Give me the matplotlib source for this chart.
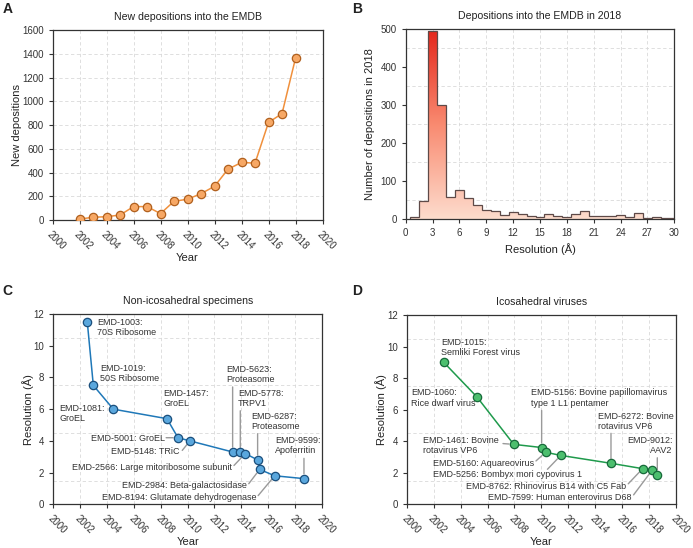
import numpy as np
import matplotlib
matplotlib.use("Agg")
import matplotlib.pyplot as plt
from matplotlib.colors import LinearSegmentedColormap

plt.rcParams["font.family"] = ["Liberation Sans", "DejaVu Sans"]
plt.rcParams["text.color"] = "#222222"
plt.rcParams["axes.labelcolor"] = "#222222"
plt.rcParams["xtick.color"] = "#333333"
plt.rcParams["ytick.color"] = "#333333"

# --- A: new depositions per year ---
dep_years = [2002, 2003, 2004, 2005, 2006, 2007, 2008, 2009, 2010,
             2011, 2012, 2013, 2014, 2015, 2016, 2017, 2018]
dep_counts = [8, 23, 28, 42, 113, 113, 54, 158, 175,
              222, 284, 428, 485, 479, 822, 896, 1363]

# --- B: 2018 resolution histogram (1 A bins centred on integers) ---
res_bins = list(range(1, 31))
res_counts = [4, 47, 494, 300, 57, 76, 55, 36, 23, 20, 11, 18, 14, 7, 4,
              12, 9, 5, 12, 22, 8, 8, 8, 11, 4, 16, 2, 6, 2, 3]

# --- C: non-icosahedral record resolutions ---
nonico_ids = ["EMD-1003:\n70S Ribosome", "EMD-1019:\n50S Ribosome", "EMD-1081:\nGroEL",
              "EMD-1457:\nGroEL", "EMD-5001: GroEL", "EMD-5148: TRiC",
              "EMD-5623:\nProteasome", "EMD-5778:\nTRPV1",
              "EMD-2566: Large mitoribosome subunit", "EMD-6287:\nProteasome",
              "EMD-2984: Beta-galactosidase", "EMD-8194: Glutamate dehydrogenase",
              "EMD-9599:\nApoferritin"]
nonico_year = [2002.53, 2002.98, 2004.47, 2008.46, 2009.28, 2010.17, 2013.35,
               2013.92, 2014.29, 2015.21, 2015.36, 2016.48, 2018.66]
nonico_res = [11.5, 7.5, 6.0, 5.4, 4.2, 4.0, 3.3, 3.28, 3.2, 2.8, 2.2, 1.8, 1.62]

# --- D: icosahedral virus record resolutions ---
ico_ids = ["EMD-1015:\nSemliki Forest virus", "EMD-1060:\nRice dwarf virus",
           "EMD-1461: Bovine\nrotavirus VP6",
           "EMD-5156: Bovine papillomavirus\ntype 1 L1 pentamer",
           "EMD-5160: Aquareovirus", "EMD-5256: Bombyx mori cypovirus 1",
           "EMD-6272: Bovine\nrotavirus VP6", "EMD-8762: Rhinovirus B14 with C5 Fab",
           "EMD-7599: Human enterovirus D68", "EMD-9012:\nAAV2"]
ico_year = [2002.75, 2005.22, 2007.95, 2010.02, 2010.32, 2011.44, 2015.17,
            2017.52, 2018.24, 2018.61]
ico_res = [9.0, 6.8, 3.8, 3.6, 3.3, 3.1, 2.6, 2.26, 2.18, 1.88]

# label layout: (text x, text y, ha, connector start or None)
nonico_lay = [(2003.28, 11.14, "left", None), (2003.47, 8.25, "left", None),
              (2000.45, 5.73, "left", None), (2008.19, 6.69, "left", None),
              (2008.31, 4.17, "right", (2008.4, 4.2)), (2009.43, 3.33, "right", (2009.6, 3.4)),
              (2012.88, 8.21, "left", (2013.35, 7.4)), (2013.75, 6.67, "left", (2013.92, 5.9)),
              (2013.28, 2.34, "right", (2013.45, 2.45)), (2014.71, 5.22, "left", (2015.21, 4.45)),
              (2014.44, 1.16, "right", (2014.55, 1.3)), (2015.14, 0.42, "right", (2015.25, 0.55)),
              (2016.53, 3.70, "left", (2018.66, 2.9))]
ico_lay = [(2002.55, 9.95, "left", None), (2000.3, 6.74, "left", None),
           (2001.19, 3.74, "left", (2007.15, 3.85)), (2009.21, 6.74, "left", (2010.02, 5.95)),
           (2009.48, 2.60, "right", (2009.6, 2.75)), (2012.99, 1.92, "right", (2010.45, 2.22)),
           (2014.23, 5.26, "left", (2015.17, 4.5)), (2016.29, 1.12, "right", (2016.45, 1.3)),
           (2016.66, 0.42, "right", (2016.85, 0.6)), (2019.75, 3.74, "right", (2018.61, 2.95))]

FS_T, FS_L, FS_K, FS_A = 7.6, 8, 7, 6.5
GRID = dict(color="#d9d9d9", ls=(0, (4, 3)), lw=0.6)


def frame(ax):
    for s in ax.spines.values():
        s.set_color("#333333"); s.set_linewidth(0.9)
    ax.tick_params(labelsize=FS_K, length=3, width=0.8, direction="out")
    ax.set_axisbelow(True)


def year_axis(ax):
    ax.set_xlim(2000, 2020)
    ax.set_xticks(range(2000, 2021, 2))
    plt.setp(ax.get_xticklabels(), rotation=-45, ha="left", rotation_mode="anchor")
    ax.set_xlabel("Year", fontsize=FS_L, labelpad=1)
    for x in range(2000, 2021, 2):
        ax.axvline(x, **GRID, zorder=0)


def record_panel(ax, years, res, ids, lay, line_c, face_c, edge_c, title):
    frame(ax); year_axis(ax)
    ax.set_ylim(0, 12); ax.set_yticks(range(0, 13, 2))
    for y in [1.5, 4.5, 7.5, 10.5]:
        ax.axhline(y, **GRID, zorder=0)
    ax.plot(years, res, "-", color=line_c, lw=1.1, zorder=3)
    ax.plot(years, res, "o", ms=6, mfc=face_c, mec=edge_c, mew=0.9, zorder=4)
    for (tx, ty, ha, st), yr, r, lab in zip(lay, years, res, ids):
        ax.text(tx, ty, lab, ha=ha, va="center", fontsize=FS_A, color="#333333",
                linespacing=1.15, zorder=5)
        if st is not None:
            ax.annotate("", xy=(yr, r), xytext=st,
                        arrowprops=dict(arrowstyle="-", color="#9a9a9a", lw=1.0,
                                        shrinkA=0, shrinkB=3.5), zorder=2)
    ax.set_ylabel("Resolution (Å)", fontsize=FS_L, labelpad=0)
    ax.set_title(title, fontsize=FS_T, pad=7)


fig = plt.figure(figsize=(6.93, 5.48), dpi=100)
axA = fig.add_axes([0.0758, 0.5985, 0.3896, 0.3467])
axB = fig.add_axes([0.5854, 0.6004, 0.3876, 0.3467])
axC = fig.add_axes([0.0769, 0.0797, 0.3877, 0.3473])
axD = fig.add_axes([0.5869, 0.0797, 0.3886, 0.3455])

# A
frame(axA); year_axis(axA)
axA.set_ylim(0, 1600); axA.set_yticks(range(0, 1601, 200))
for y in range(200, 1601, 200):
    axA.axhline(y, **GRID, zorder=0)
axA.plot(dep_years, dep_counts, "-", color="#f0903c", lw=1.1, zorder=3)
axA.plot(dep_years, dep_counts, "o", ms=6, mfc="#f7a865", mec="#b0601e", mew=0.9, zorder=4)
axA.set_ylabel("New depositions", fontsize=FS_L, labelpad=0)
axA.set_title("New depositions into the EMDB", fontsize=FS_T, pad=7)

# B
frame(axB)
edges = np.array(res_bins + [res_bins[-1] + 1]) - 0.5
for x in range(3, 30, 3):
    axB.axvline(x, **GRID, zorder=0)
for y in range(50, 500, 100):
    axB.axhline(y, **GRID, zorder=0)
cmap = LinearSegmentedColormap.from_list("red", ["#fddccd", "#f98a70", "#e4261b"])
grad = np.linspace(0, 1, 256).reshape(-1, 1)
img = axB.imshow(grad, cmap=cmap, origin="lower", aspect="auto",
                 extent=[edges[0], edges[-1], 0, 500], zorder=2)
sp = axB.stairs(res_counts, edges, fill=True, facecolor="none", edgecolor="#5e4a48",
                lw=0.9, zorder=3)
img.set_clip_path(sp)
axB.set_xlim(0, 30); axB.set_ylim(0, 500)
axB.set_xticks(range(0, 31, 3)); axB.set_yticks(range(0, 501, 100))
axB.set_xlabel("Resolution (Å)", fontsize=FS_L)
axB.set_ylabel("Number of depositions in 2018", fontsize=FS_L)
axB.set_title("Depositions into the EMDB in 2018", fontsize=FS_T, pad=7)

# C, D
record_panel(axC, nonico_year, nonico_res, nonico_ids, nonico_lay,
             "#1f78b8", "#5aa7dd", "#1b4f7c", "Non-icosahedral specimens")
record_panel(axD, ico_year, ico_res, ico_ids, ico_lay,
             "#1f9a4c", "#4cbf6e", "#17693a", "Icosahedral viruses")

for lab, x, y in [("A", 0.004, 0.996), ("B", 0.508, 0.996), ("C", 0.004, 0.482), ("D", 0.508, 0.482)]:
    fig.text(x, y, lab, fontsize=10, fontweight="bold", va="top", ha="left")

fig.savefig("out.png", dpi=100)
